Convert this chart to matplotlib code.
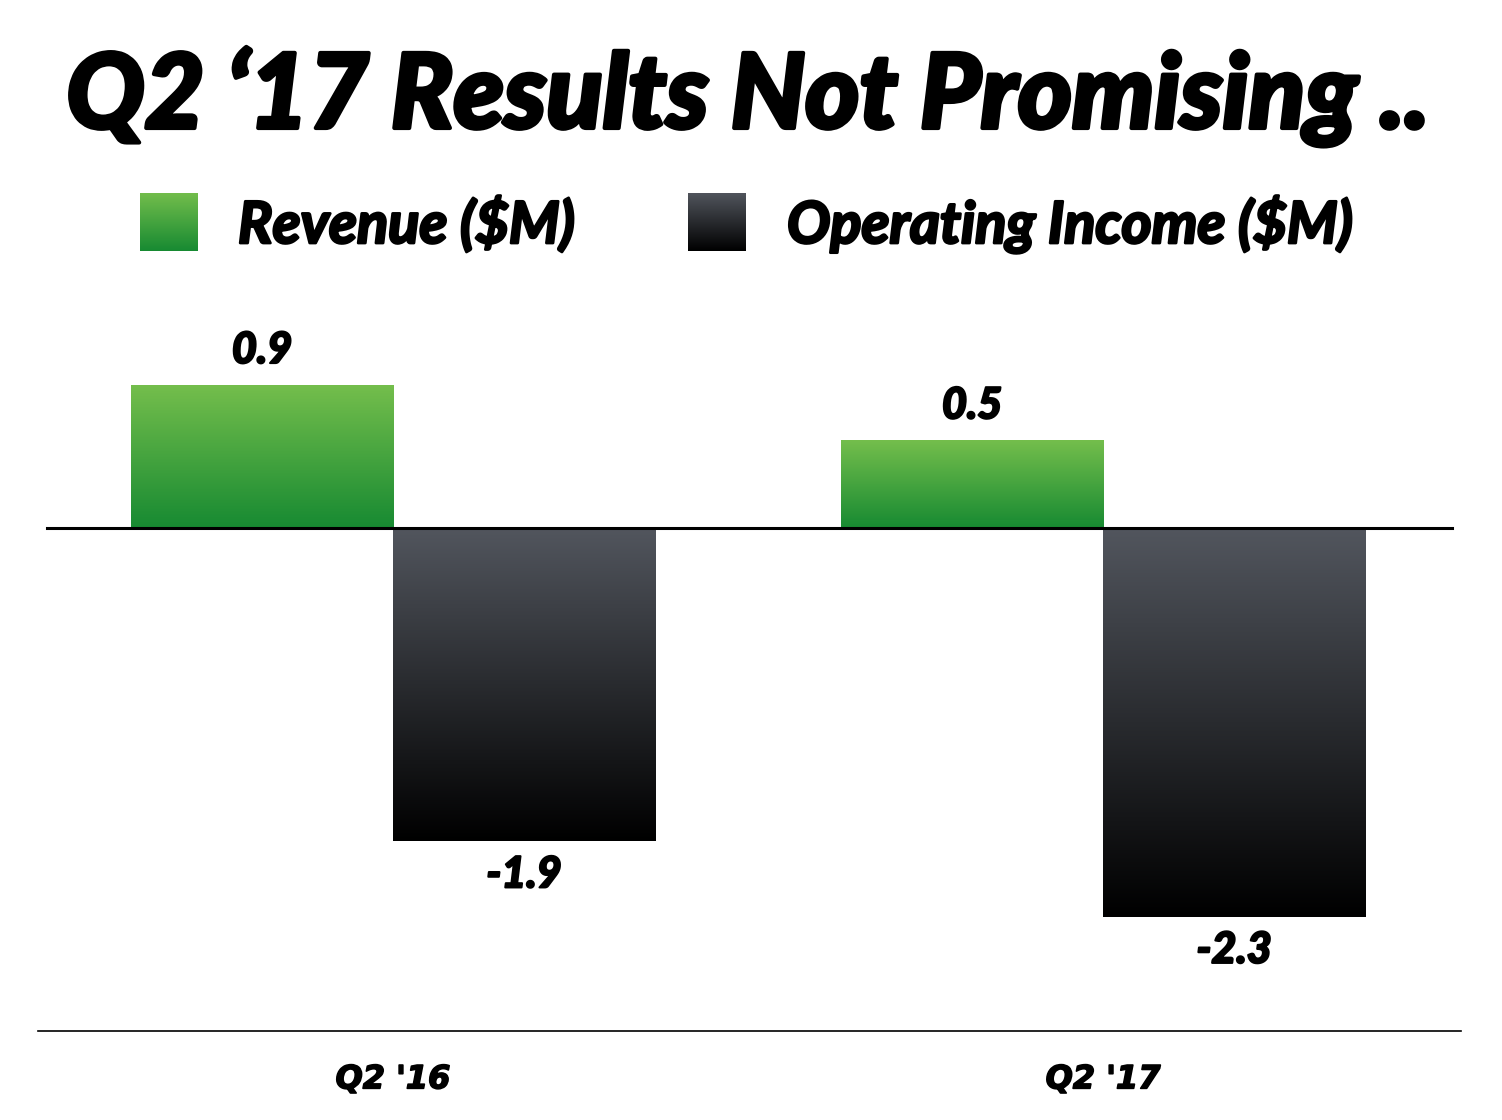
import numpy as np
import matplotlib.pyplot as plt
import matplotlib.patheffects as pe
from matplotlib.colors import LinearSegmentedColormap

# data
quarters = ["Q2 '16", "Q2 '17"]
revenue = [0.85, 0.52]
op_income = [-1.87, -2.32]
revenue_labels = ["0.9", "0.5"]
op_income_labels = ["-1.9", "-2.3"]

W, H = 1502, 1120
fig = plt.figure(figsize=(W / 100, H / 100), dpi=100)
fig.patch.set_facecolor('white')

# axes in pixel coordinates: x 38..1461, y 276..1031
ax = fig.add_axes([38 / W, 1 - 1031 / H, (1461 - 38) / W, (1031 - 276) / H])

green = LinearSegmentedColormap.from_list('g', ['#178a32', '#74be4c'])
dark = LinearSegmentedColormap.from_list('d', ['#000000', '#52565e'])
grad = np.linspace(0, 1, 256).reshape(-1, 1)

def heavy(w):
    return [pe.withStroke(linewidth=w, foreground='black')]

bw = 0.369
x = np.arange(len(quarters))
rb = ax.bar(x - bw / 2, revenue, bw, color='none', edgecolor='none')
ob = ax.bar(x + bw / 2, op_income, bw, color='none', edgecolor='none')

# gradient fill for each bar
for bars, cmap in ((rb, green), (ob, dark)):
    for b in bars:
        x0, y0 = b.get_x(), b.get_y()
        x1, y1 = x0 + b.get_width(), y0 + b.get_height()
        lo, hi = min(y0, y1), max(y0, y1)
        ax.imshow(grad, cmap=cmap, origin='lower', aspect='auto',
                  extent=(x0, x1, lo, hi), zorder=2)

ax.set_xlim(-0.5, 1.504)
ax.set_ylim(-3.0, 1.5)

vfont = dict(family='Lato', fontweight='black', style='italic', fontsize=31,
             path_effects=heavy(1.5))
for b, lab in zip(rb, revenue_labels):
    ax.annotate(lab, (b.get_x() + b.get_width() / 2, b.get_height()),
                xytext=(0, 35), textcoords='offset pixels',
                ha='center', va='center', **vfont)
for b, lab in zip(ob, op_income_labels):
    ax.annotate(lab, (b.get_x() + b.get_width() / 2, b.get_height()),
                xytext=(0, -33), textcoords='offset pixels',
                ha='center', va='center', **vfont)

ax.axhline(0, xmin=9 / 1423, xmax=1414 / 1423, color='black', lw=2.2, zorder=3)

for s in ('top', 'left', 'right'):
    ax.spines[s].set_visible(False)
ax.spines['bottom'].set_linewidth(1.2)
ax.set_yticks([])
ax.set_xticks(x)
ax.set_xticklabels(quarters, family='DejaVu Sans', fontweight='bold',
                   style='italic', fontsize=23, path_effects=heavy(1.2))
ax.tick_params(axis='x', length=0, pad=24)

# title
fig.text(748 / W, 1 - 128 / H, "Q2 \u201817 Results Not Promising ..",
         ha='center', va='baseline', family='Lato', fontweight='black',
         style='italic', fontsize=74.5, path_effects=heavy(3))

# legend with gradient swatches
for (lx, cmap, txt, tx) in ((140, green, "Revenue ($M)", 238),
                            (688, dark, "Operating Income ($M)", 787)):
    sw = fig.add_axes([lx / W, 1 - 251 / H, 58 / W, 58 / H])
    sw.imshow(grad, cmap=cmap, origin='lower', aspect='auto')
    sw.axis('off')
    fig.text(tx / W, 1 - 243 / H, txt, ha='left', va='baseline',
             family='Lato', fontweight='bold', style='italic', fontsize=41.5,
             path_effects=heavy(2))

fig.savefig('out.png', dpi=100)
